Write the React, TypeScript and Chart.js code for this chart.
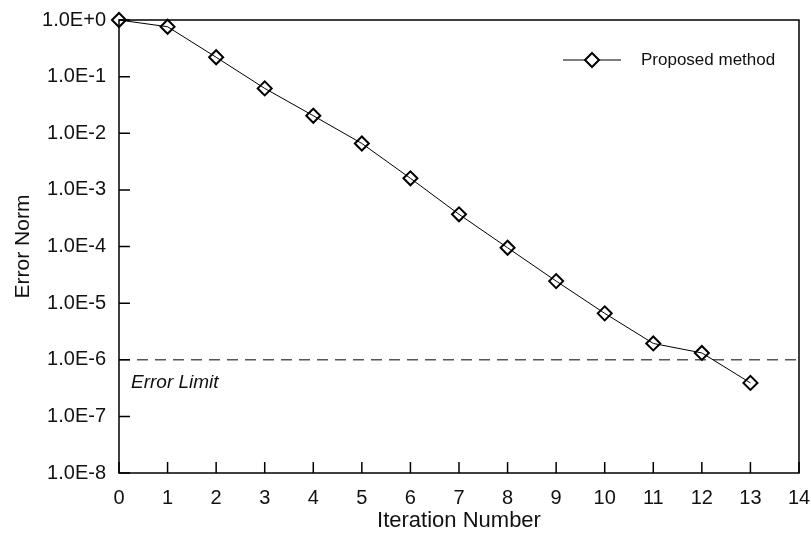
import React, { useEffect, useRef } from "react";
import { Chart, registerables } from "chart.js";

Chart.register(...registerables);

const iterations = [0, 1, 2, 3, 4, 5, 6, 7, 8, 9, 10, 11, 12, 13];
const errorNorm = [1.0, 0.76, 0.22, 0.062, 0.0204, 0.0066, 0.0016, 0.00037, 9.5e-5, 2.45e-5, 6.6e-6, 1.94e-6, 1.32e-6, 3.9e-7];
const errorLimit = 1e-6;
const errorLimitLabel = "Error Limit";
const seriesLabel = "Proposed method";
const xTitle = "Iteration Number";
const yTitle = "Error Norm";
const yDecades = [-8, -7, -6, -5, -4, -3, -2, -1, 0];
const xRange = [0, 14];

const FONT = "'Liberation Sans', Arial, sans-serif";

function fmtExp(v: number) {
  const e = Math.round(Math.log10(v));
  return "1.0E" + (e >= 0 ? "+" : "") + e;
}

const decoPlugin = {
  id: "deco",
  afterDraw(chart: any) {
    const { ctx, chartArea } = chart;
    const xs = chart.scales.x;
    const ys = chart.scales.y;
    const { left, right, top, bottom } = chartArea;
    ctx.save();
    ctx.strokeStyle = "#000";
    ctx.lineWidth = 1.5;
    ctx.strokeRect(left, top, right - left, bottom - top);
    // inward ticks
    ctx.beginPath();
    xs.ticks.forEach((t: any) => {
      const px = xs.getPixelForValue(t.value);
      ctx.moveTo(px, bottom);
      ctx.lineTo(px, bottom - 11);
    });
    ys.ticks.forEach((t: any) => {
      const py = ys.getPixelForValue(t.value);
      ctx.moveTo(left, py);
      ctx.lineTo(left + 11, py);
    });
    ctx.stroke();
    // error limit label
    ctx.fillStyle = "#111";
    ctx.font = "italic 19px " + FONT;
    ctx.textBaseline = "alphabetic";
    ctx.textAlign = "left";
    ctx.fillText(errorLimitLabel, left + 12, ys.getPixelForValue(errorLimit) + 28);
    // legend
    const ly = top + 40;
    const lx = left + 444;
    ctx.lineWidth = 1;
    ctx.beginPath();
    ctx.moveTo(lx, ly);
    ctx.lineTo(lx + 58, ly);
    ctx.stroke();
    ctx.lineWidth = 2;
    const cx = lx + 29;
    const r = 7;
    ctx.beginPath();
    ctx.moveTo(cx, ly - r);
    ctx.lineTo(cx + r, ly);
    ctx.lineTo(cx, ly + r);
    ctx.lineTo(cx - r, ly);
    ctx.closePath();
    ctx.fillStyle = "#fff";
    ctx.fill();
    ctx.stroke();
    ctx.fillStyle = "#111";
    ctx.font = "17px " + FONT;
    ctx.textBaseline = "middle";
    ctx.fillText(seriesLabel, lx + 78, ly);
    ctx.restore();
  },
};

export default function App() {
  const ref = useRef<HTMLCanvasElement>(null);
  useEffect(() => {
    document.body.style.margin = "0";
    const chart = new Chart(ref.current!, {
      type: "line",
      data: {
        datasets: [
          {
            label: seriesLabel,
            data: iterations.map((x, i) => ({ x, y: errorNorm[i] })),
            borderColor: "#000",
            borderWidth: 1,
            pointStyle: "rectRot",
            pointRadius: 7,
            pointBorderWidth: 2,
            pointBorderColor: "#000",
            pointBackgroundColor: "rgba(0,0,0,0)",
            clip: false,
            order: 1,
          },
          {
            label: errorLimitLabel,
            data: [
              { x: xRange[0], y: errorLimit },
              { x: xRange[1], y: errorLimit },
            ],
            borderColor: "#555",
            borderWidth: 1.5,
            borderDash: [11, 7],
            pointRadius: 0,
            order: 2,
          },
        ],
      },
      options: {
        animation: false,
        responsive: false,
        devicePixelRatio: 1,
        layout: { padding: { top: 20, right: 12, left: 0, bottom: 0 } },
        plugins: { legend: { display: false }, tooltip: { enabled: false } },
        scales: {
          x: {
            type: "linear",
            min: xRange[0],
            max: xRange[1],
            grid: { display: false, drawTicks: false },
            border: { display: false },
            ticks: { stepSize: 1, color: "#111", padding: 13, maxRotation: 0, font: { family: FONT, size: 20 } },
            title: { display: true, text: xTitle, color: "#111", padding: { top: 0, bottom: -1 }, font: { family: FONT, size: 22 } },
            afterFit: (s: any) => {
              s.height = 60;
              s.paddingLeft = 0;
              s.paddingRight = 0;
            },
          },
          y: {
            type: "logarithmic",
            min: Math.pow(10, yDecades[0]),
            max: Math.pow(10, yDecades[yDecades.length - 1]),
            grid: { display: false, drawTicks: false },
            border: { display: false },
            afterBuildTicks: (s: any) => {
              s.ticks = yDecades.map((e) => ({ value: Math.pow(10, e) }));
            },
            ticks: {
              color: "#111",
              padding: 13,
              font: { family: FONT, size: 20 },
              callback: (v: any) => fmtExp(Number(v)),
            },
            title: { display: true, text: yTitle, color: "#111", padding: { top: 11, bottom: 0 }, font: { family: FONT, size: 21 } },
            afterFit: (s: any) => {
              s.width = 119;
              s.paddingTop = 0;
              s.paddingBottom = 0;
            },
          },
        },
      },
      plugins: [decoPlugin],
    });
    return () => chart.destroy();
  }, []);
  return (
    <div style={{ position: "absolute", left: 0, top: 0, width: 811, height: 533, background: "#fff" }}>
      <canvas ref={ref} width={811} height={533} />
    </div>
  );
}
